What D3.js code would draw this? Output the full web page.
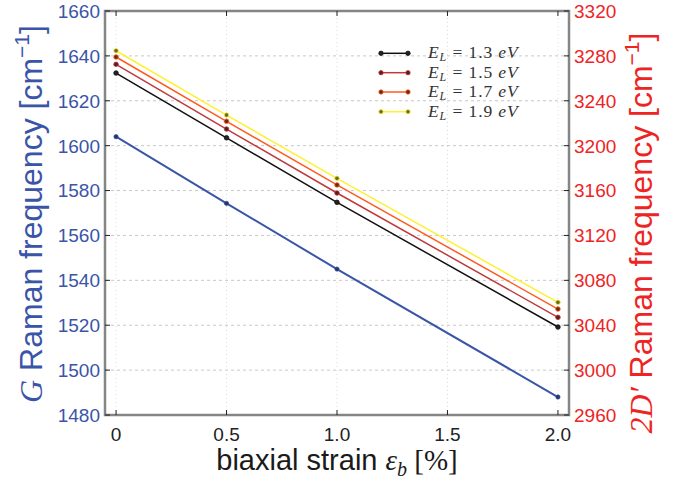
<!DOCTYPE html>
<html>
<head>
<meta charset="utf-8">
<script src="https://cdn.jsdelivr.net/npm/d3@7"></script>
<style>
  html, body { margin: 0; padding: 0; background: #fff; }
  svg { display: block; }
</style>
</head>
<body>
<svg id="chart" width="677" height="485"></svg>
<script>
const strain = [0, 0.5, 1.0, 2.0];
const gFreq = [1604, 1574.3, 1545, 1488];
const energies = ["1.3", "1.5", "1.7", "1.9"];
const d2_13 = [3264.7, 3207, 3149.5, 3038.4];
const d2_15 = [3272.5, 3214.8, 3157.8, 3047];
const d2_17 = [3279, 3221.7, 3165, 3054.4];
const d2_19 = [3284.6, 3227.3, 3170.9, 3060.4];
const xTicks = [0, 0.5, 1.0, 1.5, 2.0];
const xTickLabels = ["0", "0.5", "1.0", "1.5", "2.0"];
const yLeftTicks = [1480, 1500, 1520, 1540, 1560, 1580, 1600, 1620, 1640, 1660];
const yRightTicks = [2960, 3000, 3040, 3080, 3120, 3160, 3200, 3240, 3280, 3320];

const series2D = [d2_13, d2_15, d2_17, d2_19];
const colors2D = ["#111111", "#bf3a3c", "#ff5a1f", "#fff033"];
const markerFill = ["#222222", "#5a1e1e", "#6a2a10", "#6b6a2a"];
const blue = "#3a55a8";
const red = "#ee2424";

const W = 677, H = 485;
const m = {left: 105, right: 108, top: 11, bottom: 70};
const svg = d3.select("#chart");
const x = d3.scaleLinear().domain([-0.05, 2.05]).range([m.left, W - m.right]);
const yL = d3.scaleLinear().domain([1480, 1660]).range([H - m.bottom, m.top]);
const yR = d3.scaleLinear().domain([2960, 3320]).range([H - m.bottom, m.top]);

const x0 = m.left, x1 = W - m.right, y0 = H - m.bottom, y1 = m.top;

// grid
const grid = svg.append("g");
grid.selectAll("line.h").data(yLeftTicks.slice(1, -1)).join("line")
  .attr("x1", x0).attr("x2", x1)
  .attr("y1", d => yL(d)).attr("y2", d => yL(d))
  .attr("stroke", "#c8c8c8").attr("stroke-width", 1).attr("stroke-dasharray", "3,3");
grid.selectAll("line.v").data(xTicks).join("line")
  .attr("x1", d => x(d)).attr("x2", d => x(d))
  .attr("y1", y0).attr("y2", y1)
  .attr("stroke", "#dcdcdc").attr("stroke-width", 1).attr("stroke-dasharray", "1,3");

// G line
const lineL = d3.line().x((d, i) => x(strain[i])).y(d => yL(d));
svg.append("path").datum(gFreq).attr("d", lineL)
  .attr("fill", "none").attr("stroke", blue).attr("stroke-width", 2);
svg.selectAll("circle.g").data(gFreq).join("circle")
  .attr("cx", (d, i) => x(strain[i])).attr("cy", d => yL(d)).attr("r", 2.2)
  .attr("fill", "#2a3560").attr("stroke", blue).attr("stroke-width", 0.6);

// 2D' lines
const lineR = d3.line().x((d, i) => x(strain[i])).y(d => yR(d));
series2D.forEach((s, k) => {
  svg.append("path").datum(s).attr("d", lineR)
    .attr("fill", "none").attr("stroke", colors2D[k]).attr("stroke-width", 1.5);
});
series2D.forEach((s, k) => {
  svg.append("g").selectAll("circle").data(s).join("circle")
    .attr("cx", (d, i) => x(strain[i])).attr("cy", d => yR(d)).attr("r", 2.3)
    .attr("fill", markerFill[k]).attr("stroke", colors2D[k]).attr("stroke-width", 0.8);
});

// spines
const spineColor = "#858585";
svg.append("rect").attr("x", x0).attr("y", y1).attr("width", x1 - x0).attr("height", y0 - y1)
  .attr("fill", "none").attr("stroke", spineColor).attr("stroke-width", 2.5);

// ticks
const tk = svg.append("g");
tk.selectAll("line.lt").data(yLeftTicks).join("line")
  .attr("x1", x0).attr("x2", x0 + 5).attr("y1", d => yL(d)).attr("y2", d => yL(d))
  .attr("stroke", "#222").attr("stroke-width", 1);
tk.selectAll("line.rt").data(yRightTicks).join("line")
  .attr("x1", x1).attr("x2", x1 - 5).attr("y1", d => yR(d)).attr("y2", d => yR(d))
  .attr("stroke", "#222").attr("stroke-width", 1);
tk.selectAll("line.bt").data(xTicks).join("line")
  .attr("x1", d => x(d)).attr("x2", d => x(d)).attr("y1", y0).attr("y2", y0 - 5)
  .attr("stroke", "#222").attr("stroke-width", 1);
tk.selectAll("line.tt").data(xTicks).join("line")
  .attr("x1", d => x(d)).attr("x2", d => x(d)).attr("y1", y1).attr("y2", y1 + 5)
  .attr("stroke", "#222").attr("stroke-width", 1);

const sans = "'Liberation Sans', Arial, sans-serif";
const serif = "'Liberation Serif', 'DejaVu Serif', serif";

// tick labels
svg.append("g").selectAll("text").data(yLeftTicks).join("text")
  .attr("x", x0 - 5).attr("y", d => yL(d)).attr("dy", "0.36em")
  .attr("text-anchor", "end").attr("font-family", sans).attr("font-size", 19)
  .attr("fill", blue).text(d => d);
svg.append("g").selectAll("text").data(yRightTicks).join("text")
  .attr("x", x1 + 5).attr("y", d => yR(d)).attr("dy", "0.36em")
  .attr("text-anchor", "start").attr("font-family", sans).attr("font-size", 19)
  .attr("fill", red).text(d => d);
svg.append("g").selectAll("text").data(xTicks).join("text")
  .attr("x", d => x(d)).attr("y", 441)
  .attr("text-anchor", "middle").attr("font-family", sans).attr("font-size", 19)
  .attr("fill", "#222").text((d, i) => xTickLabels[i]);

// x label
const xl = svg.append("text").attr("x", 337).attr("y", 470)
  .attr("text-anchor", "middle").attr("font-family", sans).attr("font-size", 29).attr("fill", "#1a1a1a");
xl.append("tspan").text("biaxial strain ");
xl.append("tspan").attr("font-family", serif).attr("font-style", "italic").text("ε");
xl.append("tspan").attr("font-family", serif).attr("font-style", "italic").attr("font-size", 20).attr("dy", 6).text("b");
xl.append("tspan").attr("font-family", serif).attr("dy", -6).text(" [%]");

// left y label
const yl = svg.append("text").attr("transform", "translate(42,214) rotate(-90)")
  .attr("text-anchor", "middle").attr("font-family", sans).attr("font-size", 32).attr("fill", blue);
yl.append("tspan").attr("font-family", serif).attr("font-style", "italic").text("G");
yl.append("tspan").text(" Raman frequency [cm");
yl.append("tspan").attr("font-size", 21).attr("dy", -13).text("−1");
yl.append("tspan").attr("dy", 13).text("]");

// right y label
const yr = svg.append("text").attr("transform", "translate(652,233) rotate(-90)")
  .attr("text-anchor", "middle").attr("font-family", sans).attr("font-size", 32).attr("fill", red);
yr.append("tspan").attr("font-family", serif).attr("font-style", "italic").text("2D′");
yr.append("tspan").text(" Raman frequency [cm");
yr.append("tspan").attr("font-size", 21).attr("dy", -13).text("−1");
yr.append("tspan").attr("dy", 13).text("]");

// legend
const legY = [53.3, 72.7, 92, 111.7];
energies.forEach((e, k) => {
  const g = svg.append("g");
  g.append("line").attr("x1", 381).attr("x2", 408).attr("y1", legY[k]).attr("y2", legY[k])
    .attr("stroke", colors2D[k]).attr("stroke-width", 1.5);
  [381, 408].forEach(px => g.append("circle").attr("cx", px).attr("cy", legY[k]).attr("r", 2.2)
    .attr("fill", markerFill[k]).attr("stroke", colors2D[k]).attr("stroke-width", 0.8));
  const t = g.append("text").attr("x", 428).attr("y", legY[k] + 5)
    .attr("font-family", serif).attr("font-size", 17.5).attr("letter-spacing", 0.9).attr("fill", "#333");
  t.append("tspan").attr("font-style", "italic").text("E");
  t.append("tspan").attr("font-style", "italic").attr("font-size", 12).attr("dy", 3).text("L");
  t.append("tspan").attr("dy", -3).text(" = " + e + " ");
  t.append("tspan").attr("font-style", "italic").text("eV");
});
</script>
</body>
</html>
